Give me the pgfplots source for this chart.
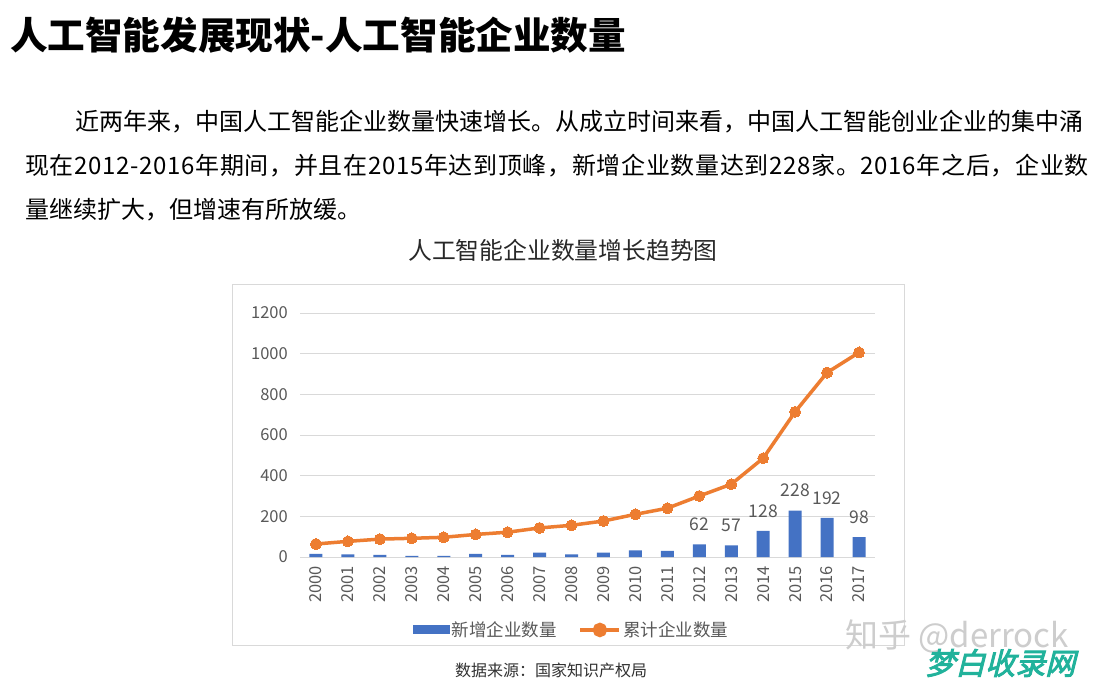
\documentclass[border=0pt]{standalone}
\usepackage{pgfplots}
\pgfplotsset{compat=1.18}
\usepackage{fontspec}
\setmainfont{Noto Sans CJK SC}
\newfontfamily\wmfont[FakeSlant=0.25,FakeBold=3]{Noto Sans CJK SC}
\definecolor{barblue}{HTML}{4472C4}
\definecolor{lineorange}{HTML}{ED7D31}
\definecolor{gridgray}{HTML}{D9D9D9}
\definecolor{txtgray}{HTML}{595959}
\definecolor{wmgreen}{RGB}{33,178,155}
\definecolor{wmgray}{RGB}{205,205,205}
\XeTeXlinebreaklocale "zh"
\XeTeXlinebreakskip=0pt plus 3pt

\begin{document}
\begin{tikzpicture}
\path[use as bounding box] (0pt,0pt) rectangle (1104pt,-686pt);
\fill[white] (0pt,0pt) rectangle (1104pt,-686pt);
% page title
\node[anchor=west, inner sep=0pt, font=\fontsize{37.6}{37.6}\selectfont\bfseries] at (10pt,-35pt) {人工智能发展现状-人工智能企业数量};
% paragraph
\node[anchor=west, inner sep=0pt, font=\fontsize{24}{24}\selectfont] at (75pt,-122pt) {\makebox[1015pt][s]{近两年来，中国人工智能企业数量快速增长。从成立时间来看，中国人工智能创业企业的集中涌}};
\node[anchor=west, inner sep=0pt, font=\fontsize{24}{24}\selectfont\addfontfeature{LetterSpace=2.8}] at (25pt,-166pt) {现在2012-2016年期间，并且在2015年达到顶峰，新增企业数量达到228家。2016年之后，企业数};
\node[anchor=west, inner sep=0pt, font=\fontsize{24}{24}\selectfont] at (25pt,-210pt) {量继续扩大，但增速有所放缓。};
% chart title
\node[inner sep=0pt, font=\fontsize{23.8}{23.8}\selectfont, text={rgb,255:red,40;green,40;blue,40}] at (563pt,-250pt) {人工智能企业数量增长趋势图};
% chart frame
\draw[gridgray, line width=1pt] (232pt,-284pt) rectangle (904pt,-645pt);

\begin{axis}[
  at={(300pt,-557pt)}, anchor=south west,
  scale only axis, width=575pt, height=244pt,
  xmin=-0.5, xmax=17.5, ymin=0, ymax=1200,
  xtick={0,1,2,3,4,5,6,7,8,9,10,11,12,13,14,15,16,17},
  xticklabels={2000,2001,2002,2003,2004,2005,2006,2007,2008,2009,2010,2011,2012,2013,2014,2015,2016,2017},
  ytick={0,200,400,600,800,1000,1200},
  ymajorgrids, grid style={gridgray, line width=1pt},
  axis line style={draw=none},
  major tick length=0pt,
  /pgf/number format/assume math mode=true,
  /pgf/number format/1000 sep={},
  tick label style={text=txtgray},
  yticklabel style={inner sep=0pt, xshift=-12pt, font=\fontsize{16.5}{16.5}\selectfont},
  xticklabel style={rotate=90, anchor=east, inner sep=0pt, font=\fontsize{16.5}{16.5}\selectfont},
  xticklabel shift=9pt,
  clip=false,
  legend style={at={(0.472,-0.299)}, anchor=center, draw=none, fill=none,
    legend columns=2, font=\fontsize{17.5}{17.5}\selectfont, text=txtgray,
    /tikz/every even column/.append style={column sep=20pt}},
]
\addplot[ybar, bar width=13pt, fill=barblue, draw=none,
  legend image code/.code={\fill[barblue] (0pt,-4.5pt) rectangle (37pt,4.5pt);}]
  coordinates {(0,16) (1,13) (2,10) (3,6) (4,5) (5,16) (6,11) (7,21) (8,13) (9,21)
               (10,33) (11,30) (12,62) (13,57) (14,128) (15,228) (16,192) (17,98)};
\addlegendentry{新增企业数量}
\addplot[lineorange, line width=3.5pt, mark=*, mark size=5.5pt,
  mark options={fill=lineorange, draw=lineorange, line width=0pt},
  legend image code/.code={\draw[lineorange, line width=3.5pt] (0pt,0pt) -- (39pt,0pt); \fill[lineorange] (19.5pt,0pt) circle (5.5pt);}]
  coordinates {(0,64) (1,77) (2,88) (3,92) (4,97) (5,111) (6,122) (7,143) (8,156) (9,177)
               (10,210) (11,240) (12,300) (13,358) (14,486) (15,714) (16,907) (17,1006)};
\addlegendentry{累计企业数量}
\addplot[draw=none, mark=none, forget plot, nodes near coords, point meta=y,
  nodes near coords style={anchor=base, yshift=13.8pt, inner sep=0pt,
    font=\fontsize{17.5}{17.5}\selectfont, text=txtgray}]
  coordinates {(12,62) (13,57) (14,128) (15,228) (16,192) (17,98)};
\end{axis}

% source
\node[anchor=west, inner sep=0pt, font=\fontsize{16}{16}\selectfont, text={rgb,255:red,50;green,50;blue,50}] at (455pt,-670pt) {数据来源：国家知识产权局};
% watermarks
\node[anchor=west, inner sep=0pt, font=\fontsize{33}{33}\selectfont, text=wmgray] at (845pt,-636pt) {知乎 @derrock};
\node[anchor=west, inner sep=0pt, font=\wmfont\fontsize{30}{30}\selectfont, text=wmgreen] at (925pt,-663pt) {梦白收录网};
\end{tikzpicture}
\end{document}
